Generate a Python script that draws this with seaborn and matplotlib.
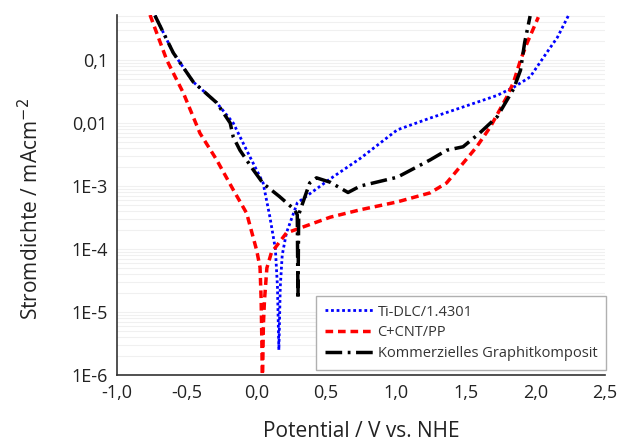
import pandas as pd
import numpy as np
import matplotlib
matplotlib.use('Agg')
import matplotlib.pyplot as plt
import matplotlib.ticker as mticker
import seaborn as sns

# Ti-DLC/1.4301
ti_pot = [-0.728, -0.596, -0.453, -0.285, -0.166, -0.07, 0.048, 0.097, 0.136, 0.151,
          0.161, 0.171, 0.185, 0.215, 0.293, 0.529, 0.745, 1.01, 1.246, 1.482,
          1.727, 1.845, 1.963, 2.081, 2.159, 2.238]
ti_cur = [0.51, 0.13, 0.045, 0.021, 0.010, 3.7e-3, 1.12e-3, 3.2e-4, 1.0e-4, 2.5e-5,
          2.5e-6, 2.5e-5, 8e-5, 1.8e-4, 5.4e-4, 1.3e-3, 2.75e-3, 7.8e-3, 0.012, 0.018,
          0.0275, 0.037, 0.054, 0.13, 0.23, 0.51]

# C+CNT/PP
cnt_pot = [-0.763, -0.643, -0.524, -0.405, -0.285, -0.166, -0.07, 0.002, 0.026, 0.034,
           0.039, 0.043, 0.05, 0.058, 0.075, 0.107, 0.215, 0.529, 0.745, 1.01,
           1.246, 1.364, 1.482, 1.58, 1.678, 1.796, 1.845, 1.894, 1.943, 2.022]
cnt_cur = [0.52, 0.10, 0.030, 6.9e-3, 2.6e-3, 8.7e-4, 3.7e-4, 9.5e-5, 5.1e-5, 1.55e-5,
           3.2e-6, 6.3e-7, 6.3e-6, 1.55e-5, 5.0e-5, 8.7e-5, 1.8e-4, 3.2e-4, 4.2e-4, 5.6e-4,
           7.8e-4, 1.12e-3, 2.3e-3, 4.2e-3, 8.7e-3, 0.026, 0.045, 0.10, 0.19, 0.48]

# Kommerzielles Graphitkomposit
gk_pot = [-0.728, -0.596, -0.453, -0.285, -0.188, -0.166, -0.118, -0.022, 0.048, 0.166,
          0.274, 0.293, 0.298, 0.303, 0.323, 0.382, 0.431, 0.529, 0.657, 0.745,
          1.01, 1.246, 1.364, 1.482, 1.60, 1.727, 1.845, 1.894, 1.924, 1.963]
gk_cur = [0.51, 0.13, 0.045, 0.021, 0.010, 6.0e-3, 3.7e-3, 1.8e-3, 1.1e-3, 6.8e-4,
          4.2e-4, 3.5e-4, 1.6e-5, 3.5e-4, 4.7e-4, 1.12e-3, 1.35e-3, 1.15e-3, 7.9e-4, 1.0e-3,
          1.38e-3, 2.6e-3, 3.7e-3, 4.2e-3, 6.9e-3, 0.0126, 0.035, 0.069, 0.19, 0.5]

labels = ['Ti-DLC/1.4301', 'C+CNT/PP', 'Kommerzielles Graphitkomposit']

x_ticks = [-1.0, -0.5, 0.0, 0.5, 1.0, 1.5, 2.0, 2.5]
y_ticks = [1e-6, 1e-5, 1e-4, 1e-3, 1e-2, 1e-1]
y_ticklabels = ['1E-6', '1E-5', '1E-4', '1E-3', '0,01', '0,1']

sns.set_style('white')
plt.rcParams['font.family'] = ['Open Sans', 'DejaVu Sans']

fig = plt.figure(figsize=(6.21, 4.46), dpi=100)
ax = fig.add_axes([0.1884, 0.1592, 0.7858, 0.8072])

ax.set_yscale('log')
ax.set_xlim(-1.0, 2.5)
ax.set_ylim(1e-6, 0.52)

# faint horizontal grid at every decade subdivision
ax.yaxis.set_minor_locator(mticker.LogLocator(base=10, subs=np.arange(2, 10)))
ax.grid(True, which='both', axis='y', color='#f0f0f0', lw=0.8)
ax.grid(False, axis='x')
ax.set_axisbelow(True)

sns.lineplot(x=ti_pot, y=ti_cur, sort=False, estimator=None, ax=ax,
             color='#0000ff', lw=2.0, linestyle=(0, (1, 1)), label=labels[0])
sns.lineplot(x=cnt_pot, y=cnt_cur, sort=False, estimator=None, ax=ax,
             color='#ff0000', lw=2.5, linestyle=(0, (2.2, 1.4)), label=labels[1])
sns.lineplot(x=gk_pot, y=gk_cur, sort=False, estimator=None, ax=ax,
             color='#000000', lw=2.5, linestyle=(0, (4.8, 1.6, 0.8, 1.6)), label=labels[2])

ax.set_xticks(x_ticks)
ax.set_xticklabels([f'{v:.1f}'.replace('.', ',') for v in x_ticks])
ax.xaxis.set_minor_locator(mticker.MultipleLocator(0.25))
ax.set_yticks(y_ticks)
ax.set_yticklabels(y_ticklabels)
ax.yaxis.set_minor_formatter(mticker.NullFormatter())

ax.tick_params(axis='both', which='major', direction='inout', length=7, width=1.1,
               color='#333333', labelsize=13, labelcolor='#222222', pad=3)
ax.tick_params(axis='both', which='minor', direction='inout', length=4, width=0.9,
               color='#333333')

for s in ['top', 'right']:
    ax.spines[s].set_visible(False)
for s in ['left', 'bottom']:
    ax.spines[s].set_color('#333333')
    ax.spines[s].set_linewidth(1.2)

ax.set_xlabel('Potential / V vs. NHE', fontsize=15, color='#222222', labelpad=14)
ax.set_ylabel('Stromdichte / mAcm$^{-2}$', fontsize=15, color='#222222')
ax.yaxis.set_label_coords(-0.152, 0.46)

leg = ax.legend(loc='lower right', bbox_to_anchor=(1.002, 0.014), borderaxespad=0,
                fontsize=10.5, frameon=True, fancybox=False, edgecolor='#b0b0b0',
                framealpha=1, handlelength=3.3, handletextpad=0.3, borderpad=0.6,
                labelspacing=0.4)
leg.get_frame().set_linewidth(1.0)
for t in leg.get_texts():
    t.set_color('#333333')

fig.savefig('out.png', dpi=100)
